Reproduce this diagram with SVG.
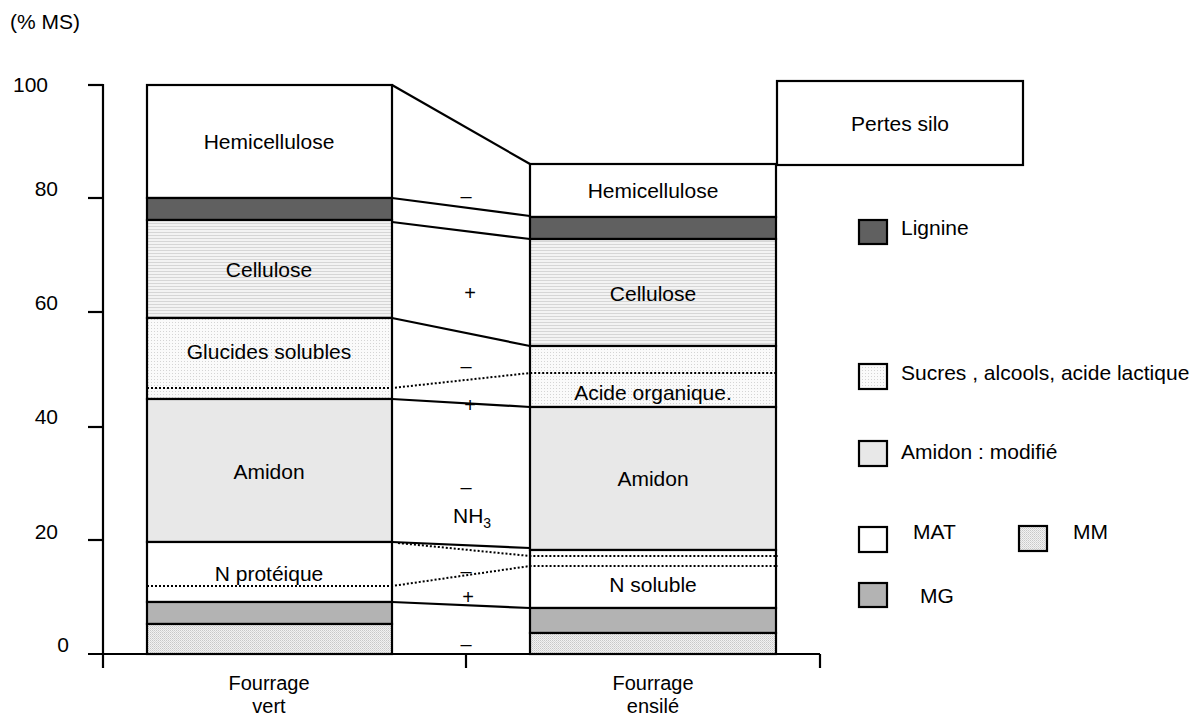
<svg xmlns="http://www.w3.org/2000/svg" width="1196" height="716" viewBox="0 0 1196 716">
<defs>
<pattern id="pCell" width="4" height="3" patternUnits="userSpaceOnUse"><rect width="4" height="3" fill="#f3f3f3"/><rect y="1" width="4" height="1" fill="#d6d6d6"/></pattern>
<pattern id="pSuc" width="3" height="3" patternUnits="userSpaceOnUse"><rect width="3" height="3" fill="#fafafa"/><rect x="1" y="1" width="1" height="1" fill="#d4d4d4"/></pattern>
<pattern id="pMM" width="2" height="2" patternUnits="userSpaceOnUse"><rect width="2" height="2" fill="#f2f2f2"/><rect width="1" height="1" fill="#c8c8c8"/><rect x="1" y="1" width="1" height="1" fill="#d8d8d8"/></pattern>
</defs>
<style>
text{font-family:"Liberation Sans",Arial,sans-serif;font-size:21px;fill:#000}
.c{text-anchor:middle}
.e{text-anchor:end}
.b{stroke:#000;stroke-width:2.2}
.ln{stroke:#000;stroke-width:2.2;fill:none}
.dt{stroke:#000;stroke-width:2;fill:none;stroke-dasharray:2 2}
.lig{fill:#606060}
.mg{fill:#b3b3b3}
.ami{fill:#e8e8e8}
.wh{fill:#fff}
.cel{fill:url(#pCell)}
.suc{fill:url(#pSuc)}
.mm{fill:url(#pMM)}
.sg{font-size:20px}
.ft{font-size:20px}
</style>
<rect width="1196" height="716" fill="#fff"/>

<g id="axis">
<text x="10" y="29">(% MS)</text>
<line class="ln" x1="103" y1="84" x2="103" y2="668"/>
<line class="ln" x1="88" y1="654" x2="820" y2="654"/>
<line class="ln" x1="88" y1="85" x2="103" y2="85"/>
<line class="ln" x1="88" y1="198" x2="103" y2="198"/>
<line class="ln" x1="88" y1="312" x2="103" y2="312"/>
<line class="ln" x1="88" y1="427" x2="103" y2="427"/>
<line class="ln" x1="88" y1="540" x2="103" y2="540"/>
<line class="ln" x1="466" y1="654" x2="466" y2="668"/>
<line class="ln" x1="820" y1="654" x2="820" y2="668"/>
<text class="e" x="48" y="92">100</text>
<text class="e" x="58" y="196">80</text>
<text class="e" x="58" y="310">60</text>
<text class="e" x="58" y="424">40</text>
<text class="e" x="58" y="539">20</text>
<text class="e" x="69" y="652">0</text>
<text class="c ft" x="269" y="690">Fourrage</text>
<text class="c ft" x="269" y="713">vert</text>
<text class="c ft" x="653" y="690">Fourrage</text>
<text class="c ft" x="653" y="713">ensilé</text>
</g>

<g id="bar-vert">
<rect class="wh b" x="147" y="85" width="245" height="113"/>
<rect class="lig b" x="147" y="198" width="245" height="22"/>
<rect class="cel b" x="147" y="220" width="245" height="98"/>
<rect class="suc b" x="147" y="318" width="245" height="81"/>
<rect class="ami b" x="147" y="399" width="245" height="143"/>
<rect class="wh b" x="147" y="542" width="245" height="60"/>
<rect class="mg b" x="147" y="602" width="245" height="22"/>
<rect class="mm b" x="147" y="624" width="245" height="30"/>
<text class="c" x="269" y="149">Hemicellulose</text>
<text class="c" x="269" y="277">Cellulose</text>
<text class="c" x="269" y="359">Glucides solubles</text>
<text class="c" x="269" y="479">Amidon</text>
<text class="c" x="269" y="581">N protéique</text>
</g>

<g id="bar-ensile">
<rect class="wh b" x="530" y="164" width="246" height="53"/>
<rect class="lig b" x="530" y="217" width="246" height="22"/>
<rect class="cel b" x="530" y="239" width="246" height="107"/>
<rect class="suc b" x="530" y="346" width="246" height="61"/>
<rect class="ami b" x="530" y="407" width="246" height="143"/>
<rect class="wh b" x="530" y="550" width="246" height="58"/>
<rect class="mg b" x="530" y="608" width="246" height="25"/>
<rect class="mm b" x="530" y="633" width="246" height="21"/>
<text class="c" x="653" y="198">Hemicellulose</text>
<text class="c" x="653" y="301">Cellulose</text>
<text class="c" x="653" y="400">Acide organique.</text>
<text class="c" x="653" y="486">Amidon</text>
<text class="c" x="653" y="592">N soluble</text>
</g>

<g id="pertes-silo">
<rect class="wh b" x="777" y="81" width="246" height="84"/>
<text class="c" x="900" y="131">Pertes silo</text>
</g>

<g id="connectors">
<line class="ln" x1="392" y1="85" x2="530" y2="164"/>
<line class="ln" x1="392" y1="198" x2="530" y2="216"/>
<line class="ln" x1="392" y1="222" x2="530" y2="239"/>
<line class="ln" x1="392" y1="318" x2="530" y2="346"/>
<polyline class="dt" points="147,388 392,388 530,373 778,373"/>
<line class="ln" x1="392" y1="399" x2="530" y2="407"/>
<line class="ln" x1="392" y1="542" x2="530" y2="548"/>
<polyline class="dt" points="398,543 530,556 778,556"/>
<polyline class="dt" points="147,586 392,586 530,566 778,566"/>
<line class="ln" x1="392" y1="602" x2="530" y2="608"/>
<text class="c sg" x="466" y="203">–</text>
<text class="c sg" x="470" y="300">+</text>
<text class="c sg" x="466" y="373">–</text>
<text class="c sg" x="470" y="412">+</text>
<text class="c sg" x="466" y="494">–</text>
<text x="453" y="523">NH<tspan font-size="14" dy="5">3</tspan></text>
<text class="c sg" x="466" y="578">–</text>
<text class="c sg" x="468" y="604">+</text>
<text class="c sg" x="466" y="651">–</text>
</g>

<g id="legend-lignine"><rect class="lig b" x="859" y="220" width="28" height="24"/><text x="901" y="235">Lignine</text></g>
<g id="legend-sucres"><rect class="suc b" x="859" y="364" width="28" height="25"/><text x="901" y="380">Sucres , alcools, acide lactique</text></g>
<g id="legend-amidon"><rect class="ami b" x="859" y="441" width="28" height="25"/><text x="901" y="459">Amidon : modifié</text></g>
<g id="legend-mat"><rect class="wh b" x="859" y="527" width="28" height="25"/><text x="913" y="539">MAT</text></g>
<g id="legend-mm"><rect class="mm b" x="1019" y="526" width="28" height="25"/><text x="1073" y="539">MM</text></g>
<g id="legend-mg"><rect class="mg b" x="859" y="583" width="28" height="24"/><text x="920" y="603">MG</text></g>
</svg>
